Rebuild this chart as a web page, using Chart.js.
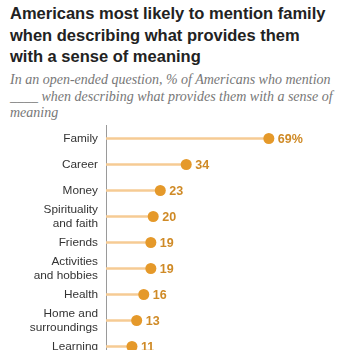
<!DOCTYPE html>
<html>
<head>
<meta charset="utf-8">
<script src="https://cdn.jsdelivr.net/npm/chart.js@4"></script>
<style>
    body { margin: 0; width: 350px; height: 350px; overflow: hidden; background: #fff; }
    #title { position: absolute; left: 10px; top: 3px; width: 322px; font: bold 16.5px "Liberation Sans", Arial, sans-serif; line-height: 21.5px; color: #222; }
    #subtitle { position: absolute; left: 10px; top: 72px; width: 330px; font: italic 14px "Liberation Serif", serif; line-height: 16.5px; color: #777; }
    #wrap { position: absolute; left: 0; top: 120px; width: 350px; height: 245px; }
</style>
</head>
<body>
<div id="title">Americans most likely to mention family when describing what provides them with a sense of meaning</div>
<div id="subtitle">In an open-ended question, % of Americans who mention ____ when describing what provides them with a sense of meaning</div>
<div id="wrap"><canvas id="chart"></canvas></div>
<script>
const categories = [
    "Family",
    "Career",
    "Money",
    ["Spirituality", "and faith"],
    "Friends",
    ["Activities", "and hobbies"],
    "Health",
    ["Home and", "surroundings"],
    "Learning"
];
const values = [69, 34, 23, 20, 19, 19, 16, 13, 11];
const valueLabels = ["69%", "34", "23", "20", "19", "19", "16", "13", "11"];

const stemColor = '#f6cb94';
const dotColor = '#e5992a';
const labelColor = '#cf8a26';

// writes the value next to each dot
const dotLabels = {
    id: 'dotLabels',
    afterDatasetsDraw(chart) {
        const ctx = chart.ctx;
        const meta = chart.getDatasetMeta(1);
        ctx.save();
        ctx.font = 'bold 12.5px "Liberation Sans", Arial, sans-serif';
        ctx.fillStyle = labelColor;
        ctx.textBaseline = 'middle';
        meta.data.forEach((pt, i) => {
            ctx.fillText(valueLabels[i], pt.x + 9, pt.y + 1);
        });
        ctx.restore();
    }
};

new Chart(document.getElementById('chart'), {
    data: {
        labels: categories,
        datasets: [
            {
                type: 'bar',
                data: values,
                backgroundColor: stemColor,
                barThickness: 2,
                order: 2
            },
            {
                type: 'line',
                data: values,
                showLine: false,
                pointRadius: 5.5,
                pointBackgroundColor: dotColor,
                pointBorderWidth: 0,
                clip: false,
                order: 1
            }
        ]
    },
    options: {
        indexAxis: 'y',
        responsive: true,
        maintainAspectRatio: false,
        animation: false,
        layout: { padding: { top: 4, bottom: 2, right: 8, left: 0 } },
        plugins: {
            legend: { display: false },
            tooltip: { enabled: false }
        },
        scales: {
            x: {
                display: false,
                min: 0,
                max: 100
            },
            y: {
                grid: { display: false, drawTicks: false },
                border: { display: true, color: '#9a9a9a', width: 1 },
                ticks: {
                    autoSkip: false,
                    color: '#333',
                    padding: 8,
                    font: { family: '"Liberation Sans", Arial, sans-serif', size: 11.8, lineHeight: 1.15 }
                },
                afterFit(scale) {
                    scale.width = 106;
                    scale.paddingTop = 0;
                    scale.paddingBottom = 0;
                }
            }
        }
    },
    plugins: [dotLabels]
});
</script>
</body>
</html>
